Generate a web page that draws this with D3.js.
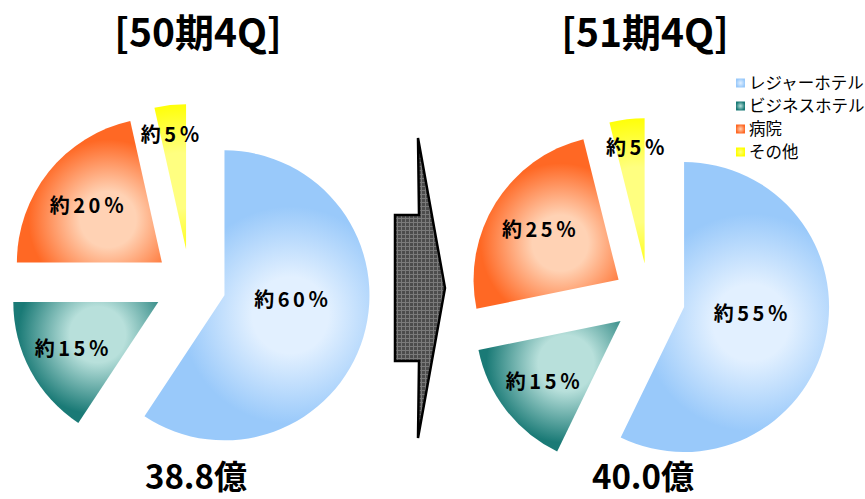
<!DOCTYPE html>
<html>
<head>
<meta charset="utf-8">
<script src="https://cdn.jsdelivr.net/npm/d3@7/dist/d3.min.js"></script>
<style>
  body { margin: 0; background: #fff; }
  svg { display: block; font-family: "Noto Sans CJK JP", "Noto Sans", sans-serif; }
</style>
</head>
<body>
<svg id="chart" width="865" height="499"></svg>
<script>
// data
var categories = ["レジャーホテル", "ビジネスホテル", "病院", "その他"];
var periods = ["[50期4Q]", "[51期4Q]"];
var totals = ["38.8億", "40.0億"];
// slice sizes as drawn (%), and the rounded labels printed on them
var shares50 = [59.3, 15.7, 21.5, 3.5];
var shares51 = [57.2, 14.6, 24.3, 3.9];
var labels50 = ["約60％", "約15％", "約20％", "約5％"];
var labels51 = ["約55％", "約15％", "約25％", "約5％"];

// colours per category: edge colour and centre highlight
var edgeColors = ["#99C9FA", "#1A7A76", "#FF6824", "#FFFF00"];
var lightColors = ["#E2F0FF", "#B8E0DB", "#FFD2B4", "#FFFF80"];

var svg = d3.select("#chart");
var defs = svg.append("defs");

var radius = 145;
var explode = 36;
// label distance from apex, as part of radius
var labelFactor = [0.46, 0.68, 0.65, 0.8];

var pies = [
  { key: "p50", values: shares50, labels: labels50, cx: 190, cy: 285, title: periods[0], total: totals[0], tx: 198, labelTurn: [-0.22, 0, -0.03, -0.03] },
  { key: "p51", values: shares51, labels: labels51, cx: 649, cy: 299, title: periods[1], total: totals[1], tx: 645, labelTurn: [-0.13, 0, 0, 0.04] }
];

var pie = d3.pie().sort(null).value(function(d) { return d; });
var arc = d3.arc().innerRadius(0).outerRadius(radius);

pies.forEach(function(p) {
  var arcs = pie(p.values);
  var g = svg.append("g").attr("transform", "translate(" + p.cx + "," + p.cy + ")");

  arcs.forEach(function(a, i) {
    var mid = (a.startAngle + a.endAngle) / 2;
    var ox = Math.sin(mid) * explode, oy = -Math.cos(mid) * explode;
    var cen = d3.arc().innerRadius(0).outerRadius(radius * 0.95).centroid(a);
    var gid = "grad-" + p.key + "-" + i;
    var span = a.endAngle - a.startAngle;
    var gr = defs.append("radialGradient")
      .attr("id", gid)
      .attr("gradientUnits", "userSpaceOnUse")
      .attr("cx", cen[0]).attr("cy", cen[1])
      .attr("r", radius * (span > 2 ? 0.75 : 0.55));
    gr.append("stop").attr("offset", "0%").attr("stop-color", lightColors[i]);
    gr.append("stop").attr("offset", "35%").attr("stop-color", lightColors[i]);
    gr.append("stop").attr("offset", "100%").attr("stop-color", edgeColors[i]);

    var sg = g.append("g").attr("transform", "translate(" + ox + "," + oy + ")");
    sg.append("path").attr("d", arc(a)).attr("fill", "url(#" + gid + ")");

    var la = mid + p.labelTurn[i];
    var lr = radius * labelFactor[i];
    sg.append("text")
      .attr("x", Math.sin(la) * lr + 2)
      .attr("y", -Math.cos(la) * lr)
      .attr("dy", "0.36em")
      .attr("text-anchor", "middle")
      .attr("font-size", 20)
      .attr("font-weight", "bold")
      .attr("letter-spacing", 3.5)
      .attr("fill", "#000")
      .text(p.labels[i]);
  });

  svg.append("text")
    .attr("x", p.tx).attr("y", 47)
    .attr("text-anchor", "middle")
    .attr("font-size", 39).attr("font-weight", "bold")
    .text(p.title);

  svg.append("text")
    .attr("x", p.tx - 2).attr("y", 489)
    .attr("text-anchor", "middle")
    .attr("font-size", 33).attr("font-weight", "bold")
    .text(p.total);
});

// arrow between the two pies
var pat = defs.append("pattern")
  .attr("id", "grid").attr("patternUnits", "userSpaceOnUse")
  .attr("width", 4).attr("height", 4);
pat.append("rect").attr("width", 4).attr("height", 4).attr("fill", "#4c4c4c");
pat.append("rect").attr("x", 1).attr("y", 0).attr("width", 1).attr("height", 4).attr("fill", "#7a7a7a");
pat.append("rect").attr("x", 0).attr("y", 2).attr("width", 4).attr("height", 1).attr("fill", "#7a7a7a");

var arrowPts = [[395, 215], [419, 215], [418, 138], [445, 288], [418, 438], [419, 361], [395, 361]];
svg.append("polygon")
  .attr("points", arrowPts.map(function(d) { return d.join(","); }).join(" "))
  .attr("fill", "url(#grid)")
  .attr("stroke", "#000").attr("stroke-width", 2.5)
  .attr("stroke-linejoin", "miter");

// legend
var legend = svg.append("g").attr("transform", "translate(736,83)");
categories.forEach(function(c, i) {
  var row = legend.append("g").attr("transform", "translate(0," + (i * 23) + ")");
  var lg = defs.append("radialGradient").attr("id", "lg" + i);
  lg.append("stop").attr("offset", "0%").attr("stop-color", lightColors[i]);
  lg.append("stop").attr("offset", "100%").attr("stop-color", edgeColors[i]);
  row.append("rect").attr("x", 0).attr("y", -4.5).attr("width", 9).attr("height", 9)
    .attr("fill", "url(#lg" + i + ")");
  row.append("text").attr("x", 13).attr("y", 0).attr("dy", "0.36em")
    .attr("font-size", 16.5).attr("fill", "#000").text(c);
});
</script>
</body>
</html>
